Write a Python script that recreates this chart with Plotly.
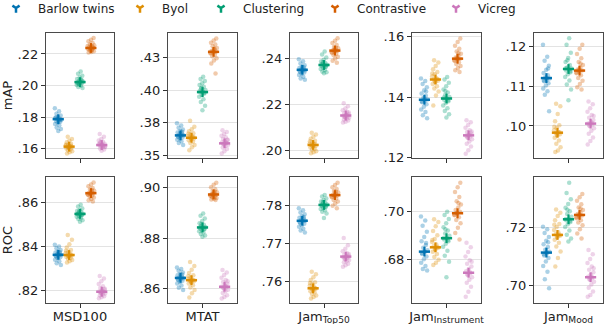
import plotly.graph_objects as go

methods = ["Barlow twins", "Byol", "Clustering", "Contrastive", "Vicreg"]
colors = ["#0173b2", "#de8f05", "#029e73", "#d55e00", "#cc78bc"]
datasets = ["MSD100", "MTAT", "Jam<sub>Top50</sub>", "Jam<sub>Instrument</sub>", "Jam<sub>Mood</sub>"]
metrics = ["mAP", "ROC"]

# per-run scores, one list per method (Barlow twins, Byol, Clustering, Contrastive, Vicreg)
msd_map = [
    [.1857, .1838, .1822, .1810, .1801, .1795, .1790, .1787, .1784, .1780, .1776, .1771, .1765, .1757, .1748, .1735, .1724, .1712, .1798, .1779],
    [.1676, .1662, .1650, .1640, .1632, .1626, .1620, .1616, .1612, .1609, .1605, .1601, .1596, .1590, .1584, .1578, .1570, .1618, .1607, .1625],
    [.2089, .2075, .2062, .2051, .2042, .2035, .2029, .2025, .2021, .2018, .2014, .2009, .2004, .1998, .1991, .1984, .2027, .2016, .2033, .2011],
    [.2301, .2290, .2280, .2270, .2262, .2255, .2248, .2243, .2239, .2236, .2232, .2228, .2223, .2218, .2213, .2209, .2245, .2233, .2251, .2226],
    [.1693, .1675, .1662, .1652, .1644, .1637, .1631, .1627, .1623, .1620, .1616, .1612, .1607, .1601, .1595, .1587, .1629, .1618, .1640, .1610],
]
mtat_map = [
    [.3745, .3728, .3712, .3698, .3686, .3675, .3667, .3660, .3654, .3649, .3643, .3636, .3628, .3619, .3608, .3595, .3579, .3664, .3646, .3680],
    [.3765, .3719, .3700, .3684, .3670, .3659, .3650, .3642, .3636, .3630, .3624, .3616, .3606, .3594, .3580, .3563, .3540, .3640, .3628, .3665],
    [.4101, .4085, .4068, .4052, .4038, .4025, .4012, .4000, .3990, .3982, .3974, .3962, .3948, .3930, .3908, .3880, .3846, .3995, .3978, .4018],
    [.4394, .4378, .4362, .4348, .4335, .4322, .4310, .4300, .4293, .4287, .4280, .4270, .4258, .4243, .4225, .4203, .4127, .4296, .4284, .4315],
    [.3693, .3678, .3664, .3650, .3638, .3627, .3617, .3608, .3600, .3594, .3588, .3581, .3572, .3561, .3548, .3532, .3515, .3597, .3585, .3620],
]
top50_map = [
    [.2397, .2388, .2379, .2371, .2364, .2359, .2355, .2352, .2349, .2346, .2343, .2339, .2334, .2328, .2321, .2313, .2307, .2350, .2344, .2362],
    [.2076, .2068, .2058, .2049, .2041, .2034, .2028, .2024, .2021, .2018, .2015, .2011, .2006, .2001, .1995, .1990, .1986, .2026, .2016, .2038],
    [.2431, .2418, .2405, .2395, .2387, .2381, .2376, .2373, .2370, .2367, .2364, .2360, .2355, .2350, .2344, .2340, .2336, .2374, .2365, .2384],
    [.2489, .2478, .2468, .2459, .2451, .2445, .2440, .2436, .2433, .2430, .2426, .2421, .2415, .2408, .2400, .2391, .2382, .2438, .2428, .2448],
    [.2205, .2192, .2182, .2174, .2167, .2161, .2156, .2153, .2150, .2147, .2144, .2141, .2137, .2133, .2129, .2124, .2120, .2152, .2145, .2164],
]
instr_map = [
    [.1461, .1453, .1443, .1432, .1422, .1412, .1404, .1397, .1392, .1388, .1383, .1376, .1368, .1359, .1350, .1340, .1330, .1395, .1385, .1418],
    [.1522, .1514, .1503, .1492, .1483, .1475, .1468, .1462, .1458, .1454, .1449, .1443, .1436, .1428, .1418, .1405, .1372, .1460, .1452, .1478],
    [.1466, .1458, .1447, .1436, .1425, .1415, .1407, .1400, .1395, .1391, .1386, .1380, .1372, .1363, .1354, .1343, .1332, .1398, .1389, .1420],
    [.1594, .1582, .1570, .1560, .1551, .1543, .1537, .1531, .1527, .1524, .1520, .1515, .1509, .1503, .1496, .1489, .1483, .1529, .1522, .1546],
    [.1323, .1316, .1307, .1298, .1290, .1284, .1279, .1275, .1272, .1269, .1265, .1260, .1253, .1245, .1236, .1224, .1212, .1274, .1267, .1286],
]
mood_map = [
    [.1205, .1175, .1165, .1152, .1142, .1134, .1128, .1123, .1120, .1117, .1113, .1108, .1102, .1095, .1088, .1079, .1037, .1122, .1115, .1145],
    [.1056, .1050, .1030, .1012, .1002, .0995, .0989, .0985, .0982, .0979, .0975, .0970, .0963, .0955, .0946, .0938, .0934, .0984, .0977, .0998],
    [.1222, .1205, .1185, .1172, .1162, .1154, .1148, .1145, .1143, .1140, .1136, .1131, .1124, .1115, .1105, .1092, .1065, .1146, .1138, .1166],
    [.1205, .1195, .1182, .1171, .1162, .1154, .1148, .1143, .1140, .1137, .1133, .1128, .1121, .1114, .1106, .1098, .1092, .1142, .1135, .1158],
    [.1062, .1055, .1045, .1036, .1028, .1021, .1015, .1010, .1006, .1003, .0999, .0994, .0988, .0980, .0971, .0962, .0953, .1008, .1001, .1025],
]
msd_roc = [
    [.8407, .8400, .8392, .8384, .8377, .8372, .8368, .8364, .8361, .8358, .8355, .8351, .8346, .8340, .8333, .8324, .8316, .8363, .8357, .8375],
    [.8452, .8430, .8410, .8395, .8384, .8376, .8370, .8365, .8361, .8358, .8355, .8352, .8348, .8344, .8339, .8333, .8327, .8363, .8357, .8380],
    [.8588, .8580, .8572, .8565, .8560, .8555, .8551, .8548, .8546, .8544, .8541, .8538, .8534, .8529, .8524, .8518, .8512, .8547, .8542, .8557],
    [.8689, .8680, .8672, .8664, .8657, .8652, .8647, .8643, .8640, .8637, .8634, .8630, .8626, .8621, .8615, .8609, .8603, .8642, .8636, .8655],
    [.8266, .8255, .8242, .8230, .8220, .8212, .8205, .8200, .8196, .8193, .8190, .8187, .8183, .8179, .8175, .8170, .8166, .8197, .8191, .8208],
]
mtat_roc = [
    [.8684, .8678, .8671, .8664, .8658, .8653, .8648, .8645, .8642, .8639, .8636, .8632, .8627, .8621, .8613, .8604, .8595, .8644, .8637, .8656],
    [.8706, .8690, .8675, .8662, .8653, .8646, .8640, .8636, .8633, .8630, .8626, .8621, .8614, .8605, .8595, .8582, .8566, .8635, .8628, .8650],
    [.8897, .8888, .8877, .8867, .8859, .8853, .8848, .8844, .8841, .8838, .8835, .8831, .8827, .8822, .8816, .8810, .8805, .8843, .8836, .8856],
    [.9018, .9010, .9001, .8993, .8986, .8981, .8977, .8974, .8971, .8969, .8967, .8964, .8961, .8958, .8955, .8952, .8950, .8973, .8968, .8984],
    [.8674, .8664, .8654, .8644, .8635, .8627, .8620, .8614, .8609, .8605, .8601, .8596, .8590, .8583, .8575, .8568, .8562, .8610, .8603, .8630],
]
top50_roc = [
    [.7793, .7788, .7782, .7777, .7772, .7768, .7765, .7762, .7760, .7758, .7755, .7752, .7748, .7744, .7739, .7734, .7729, .7761, .7756, .7770],
    [.7625, .7618, .7610, .7603, .7597, .7592, .7588, .7584, .7581, .7579, .7576, .7573, .7570, .7566, .7562, .7558, .7554, .7582, .7577, .7595],
    [.7828, .7824, .7819, .7815, .7811, .7808, .7805, .7803, .7801, .7799, .7797, .7794, .7791, .7788, .7784, .7779, .7767, .7802, .7798, .7810],
    [.7861, .7855, .7849, .7844, .7839, .7835, .7832, .7829, .7827, .7825, .7822, .7819, .7815, .7811, .7806, .7800, .7793, .7828, .7824, .7837],
    [.7714, .7695, .7686, .7679, .7674, .7670, .7667, .7665, .7663, .7661, .7659, .7656, .7653, .7650, .7646, .7642, .7638, .7664, .7660, .7672],
]
instr_roc = [
    [.6978, .6962, .6940, .6915, .6893, .6875, .6860, .6848, .6838, .6830, .6822, .6812, .6800, .6786, .6772, .6760, .6753, .6834, .6826, .6868],
    [.6967, .6955, .6938, .6918, .6900, .6885, .6872, .6862, .6854, .6847, .6840, .6832, .6822, .6810, .6798, .6786, .6776, .6851, .6843, .6880],
    [.6998, .6985, .6968, .6950, .6934, .6920, .6908, .6898, .6890, .6883, .6875, .6865, .6852, .6836, .6815, .6790, .6725, .6889, .6880, .6925],
    [.7119, .7100, .7080, .7060, .7042, .7028, .7016, .7006, .6998, .6991, .6984, .6975, .6964, .6950, .6932, .6910, .6883, .6994, .6986, .7035],
    [.6869, .6850, .6830, .6812, .6796, .6782, .6770, .6760, .6750, .6742, .6734, .6725, .6715, .6702, .6686, .6665, .6644, .6746, .6738, .6790],
]
mood_roc = [
    [.7203, .7195, .7182, .7168, .7155, .7143, .7133, .7124, .7117, .7111, .7104, .7095, .7083, .7068, .7048, .7022, .6991, .7115, .7108, .7150],
    [.7263, .7252, .7240, .7226, .7213, .7202, .7192, .7184, .7177, .7172, .7166, .7158, .7148, .7135, .7118, .7095, .7066, .7176, .7169, .7210],
    [.7355, .7320, .7298, .7282, .7269, .7257, .7247, .7238, .7231, .7226, .7220, .7212, .7202, .7190, .7176, .7163, .7152, .7230, .7223, .7262],
    [.7316, .7305, .7293, .7281, .7270, .7261, .7253, .7247, .7242, .7238, .7233, .7226, .7218, .7208, .7195, .7180, .7163, .7244, .7236, .7266],
    [.7123, .7108, .7092, .7078, .7066, .7055, .7046, .7038, .7031, .7026, .7020, .7013, .7004, .6993, .6980, .6968, .6962, .7030, .7023, .7060],
]

# means shown as the solid markers
msd_map_mean = [.1787, .1613, .2022, .2238, .1623]
mtat_map_mean = [.3653, .3635, .3984, .4292, .3592]
top50_map_mean = [.2351, .2022, .2372, .2435, .2151]
instr_map_mean = [.1391, .1458, .1395, .1527, .1273]
mood_map_mean = [.1121, .0983, .1144, .1140, .1006]
msd_roc_mean = [.8362, .8361, .8547, .8641, .8195]
mtat_roc_mean = [.8643, .8634, .8842, .8972, .8608]
top50_roc_mean = [.7760, .7581, .7802, .7828, .7665]
instr_roc_mean = [.6832, .6850, .6888, .6992, .6744]
mood_roc_mean = [.7114, .7175, .7229, .7244, .7029]

# y ticks per panel
map_ticks = [[.16, .18, .20, .22], [.35, .375, .40, .425], [.20, .22, .24], [.12, .14, .16], [.10, .11, .12]]
map_ticktext = [[".16", ".18", ".20", ".22"], [".35", ".38", ".40", ".43"], [".20", ".22", ".24"], [".12", ".14", ".16"], [".10", ".11", ".12"]]
roc_ticks = [[.82, .84, .86], [.86, .88, .90], [.76, .77, .78], [.68, .70], [.70, .72]]
roc_ticktext = [[".82", ".84", ".86"], [".86", ".88", ".90"], [".76", ".77", ".78"], [".68", ".70"], [".70", ".72"]]
map_ranges = [[.1541, .2333], [.348, .4436], [.1965, .2512], [.1198, .1612], [.0919, .1235]]
roc_ranges = [[.8144, .8714], [.8544, .9041], [.7542, .7876], [.6618, .7143], [.694, .7375]]

rows = [
    ([msd_map, mtat_map, top50_map, instr_map, mood_map],
     [msd_map_mean, mtat_map_mean, top50_map_mean, instr_map_mean, mood_map_mean],
     map_ticks, map_ticktext, map_ranges),
    ([msd_roc, mtat_roc, top50_roc, instr_roc, mood_roc],
     [msd_roc_mean, mtat_roc_mean, top50_roc_mean, instr_roc_mean, mood_roc_mean],
     roc_ticks, roc_ticktext, roc_ranges),
]

W, H = 604, 324
col_px = [(46, 114), (168, 237), (290, 358), (412, 481), (534, 603)]
row_px = [(33, 158), (177, 303)]
offsets = [-0.32, -0.16, 0.0, 0.16, 0.32]

fig = go.Figure()
font = "DejaVu Sans"
layout = {}

for r, (data, means, ticks, ticktext, ranges) in enumerate(rows):
    for c in range(5):
        k = r * 5 + c + 1
        xa = "x" if k == 1 else f"x{k}"
        ya = "y" if k == 1 else f"y{k}"
        for m in range(5):
            vals = data[c][m]
            xs = [offsets[m] + (((i * 0.618034 + m * 0.3) % 1) - 0.5) * 0.1 for i in range(len(vals))]
            fig.add_trace(go.Scatter(
                x=xs, y=vals, xaxis=xa, yaxis=ya, mode="markers", showlegend=False,
                marker=dict(color=colors[m], size=4.5, opacity=0.33, line=dict(width=0)),
                hoverinfo="skip"))
            fig.add_trace(go.Scatter(
                x=[offsets[m]], y=[means[c][m]], xaxis=xa, yaxis=ya, mode="markers", showlegend=False,
                marker=dict(color=colors[m], size=8, symbol="line-ew", line=dict(color=colors[m], width=2.5))))
            fig.add_trace(go.Scatter(
                x=[offsets[m]], y=[means[c][m]], xaxis=xa, yaxis=ya, mode="markers", showlegend=False,
                marker=dict(color=colors[m], size=7, symbol="line-ns", line=dict(color=colors[m], width=2.2))))
        x0, x1 = col_px[c]
        y0, y1 = row_px[r]
        layout["xaxis" if k == 1 else f"xaxis{k}"] = dict(
            domain=[x0 / W, x1 / W], anchor=ya, range=[-0.5, 0.5], automargin=False,
            tickvals=[0], ticktext=[datasets[c]], showticklabels=(r == 1), ticklabelstandoff=-3,
            ticks="outside", ticklen=4, tickcolor="#333", showgrid=False, zeroline=False,
            showline=True, linecolor="#4a4a4a", linewidth=1.2, mirror=True,
            tickfont=dict(family=font, size=13, color="#222"))
        layout["yaxis" if k == 1 else f"yaxis{k}"] = dict(
            domain=[1 - y1 / H, 1 - y0 / H], anchor=xa, range=ranges[c], automargin=False,
            tickvals=ticks[c], ticktext=ticktext[c],
            ticks="outside", ticklen=4, tickcolor="#333", showgrid=True, gridcolor="#e3e3e3", gridwidth=1,
            zeroline=False, showline=True, linecolor="#4a4a4a", linewidth=1.2, mirror=True,
            tickfont=dict(family=font, size=13, color="#222"),
            title=dict(text=metrics[r], font=dict(family=font, size=13, color="#222"), standoff=8) if c == 0 else None)

# legend row drawn on a hidden full-page axis measured in pixels
legend_x = [16, 140, 221, 335, 456]
legend_y = 8
fig.add_trace(go.Scatter(
    x=legend_x, y=[legend_y] * 5, xaxis="x11", yaxis="y11", mode="markers", showlegend=False,
    hoverinfo="skip",
    marker=dict(symbol="y-down", size=6, color=colors, line=dict(color=colors, width=2.5))))
layout["xaxis11"] = dict(domain=[0, 1], range=[0, W], visible=False, fixedrange=True)
layout["yaxis11"] = dict(domain=[0, 1], range=[H, 0], visible=False, fixedrange=True, anchor="x11")
annotations = []
for m in range(5):
    annotations.append(dict(
        text=methods[m], x=(legend_x[m] + 20) / W, y=1 - (legend_y + 0.5) / H, xref="paper", yref="paper",
        xanchor="left", yanchor="middle", showarrow=False,
        font=dict(family=font, size=12, color="#222")))

fig.update_layout(**layout)
fig.update_layout(width=W, height=H, margin=dict(l=0, r=0, t=0, b=0), showlegend=False,
                  annotations=annotations, plot_bgcolor="rgba(0,0,0,0)", paper_bgcolor="white")

fig.write_html("out.html", config={"displayModeBar": False},
               post_script="document.body.style.margin = '0';")
